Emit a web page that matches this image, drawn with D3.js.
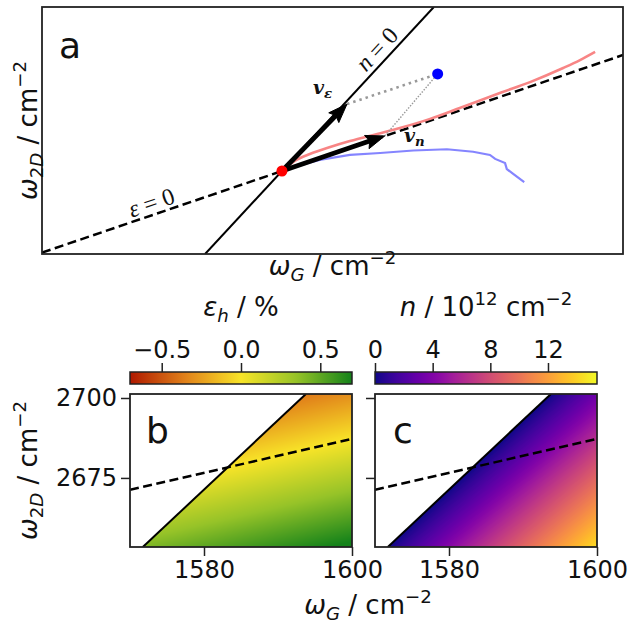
<!DOCTYPE html>
<html><head><meta charset="utf-8">
<script src="https://cdn.jsdelivr.net/npm/d3@7"></script>
<style>body{margin:0;background:#fff} svg{display:block} text{font-family:"DejaVu Sans",sans-serif;fill:#111}</style>
</head><body><svg id="chart" width="632" height="623"></svg>
<script>
// ---------- Panel a (schematic, arbitrary units) ----------
const aOrigin = [4.13, 3.36];
const aSlopeN0 = 2.54;     // n = 0 line (pure strain)
const aSlopeE0 = 0.80;     // eps = 0 line (pure doping)
const redCurveX = [4.13, 4.35, 4.61, 4.96, 5.30, 5.77, 6.16, 6.68, 7.19, 7.88, 8.40, 8.97, 9.26, 9.52];
const redCurveY = [3.36, 3.77, 4.05, 4.33, 4.57, 4.86, 5.10, 5.47, 5.91, 6.52, 6.96, 7.53, 7.85, 8.18];
const blueCurveX = [4.13, 4.44, 4.78, 5.30, 5.82, 6.39, 6.97, 7.42, 7.71, 7.80, 7.97, 8.00, 8.11, 8.30];
const blueCurveY = [3.36, 3.60, 3.81, 4.01, 4.09, 4.19, 4.24, 4.14, 4.01, 3.85, 3.68, 3.44, 3.24, 2.91];
const bluePoint = [6.81, 7.29];
const vEpsTip = [5.25, 6.07];
const vNTip = [5.90, 4.78];

// ---------- Panels b, c ----------
const omegaG0 = 1583.2, omega2D0 = 2678.3;
const strainShift = [-28, -60.8];   // cm^-1 per +1 % hydrostatic strain (G, 2D)
const dopingShift = [2.6, 1.382];   // cm^-1 per 1e12 cm^-2 (G, 2D)
const xDomain = [1570, 1600];
const yDomain = [2653.4, 2701.25];
const xTicks = [1580, 1600];
const yTicks = [2675, 2700];
const epsDomain = [-0.7, 0.7];
const epsTicks = [-0.5, 0.0, 0.5];
const epsStops = [-0.7, -0.35, 0, 0.35, 0.7];
const epsColors = ["#af1900", "#e1821a", "#f8e428", "#96c328", "#14821a"];
const nDomain = [0, 15.4];
const nTicks = [0, 4, 8, 12];

// ---------- layout ----------
const A = {x0: 42, x1: 623, y0: 7, y1: 254};
const B = {x0: 130, x1: 352, y0: 394, y1: 547};
const C = {x0: 375, x1: 597, y0: 394, y1: 547};
const CB = {y0: 372, y1: 384};
const FS = 24, LFS = 26;

const svg = d3.select("#chart");
const defs = svg.append("defs");

function mathText(g, x, y, parts, size, anchor, transform) {
  const t = g.append("text").attr("x", x).attr("y", y).attr("font-size", size)
    .attr("text-anchor", anchor || "start");
  if (transform) t.attr("transform", transform);
  let cur = 0;
  parts.forEach(p => {
    const off = p.sub ? 0.22 * size : (p.sup ? -0.42 * size : 0);
    const ts = t.append("tspan").text(p.t).attr("dy", off - cur)
      .attr("font-size", (p.sub || p.sup) ? 0.7 * size : size);
    if (p.it) ts.attr("font-style", "italic");
    if (p.family) ts.attr("font-family", p.family);
    if (p.bold) ts.attr("font-weight", "bold");
    cur = off;
  });
  return t;
}
const w2DParts = [{t: "ω", it: true}, {t: "2", sub: true}, {t: "D", sub: true, it: true}, {t: " / cm"}, {t: "−2", sup: true}];
const wGParts = [{t: "ω", it: true}, {t: "G", sub: true, it: true}, {t: " / cm"}, {t: "−2", sup: true}];

// ================= Panel a =================
const ax = d3.scaleLinear().domain([0, 10]).range([A.x0, A.x1]);
const ay = d3.scaleLinear().domain([0, 10]).range([A.y1, A.y0]);
defs.append("clipPath").attr("id", "clipA").append("rect")
  .attr("x", A.x0).attr("y", A.y0).attr("width", A.x1 - A.x0).attr("height", A.y1 - A.y0);
const ga = svg.append("g");
const gaC = ga.append("g").attr("clip-path", "url(#clipA)");
const lineFn = d3.line().x(d => ax(d[0])).y(d => ay(d[1]));

// n = 0 line
const n0Pts = [[aOrigin[0] + (0 - aOrigin[1]) / aSlopeN0, 0], [aOrigin[0] + (10 - aOrigin[1]) / aSlopeN0, 10]];
gaC.append("path").attr("d", lineFn(n0Pts)).attr("stroke", "#000").attr("stroke-width", 2).attr("fill", "none");
// eps = 0 line
const e0Pts = [[0, aOrigin[1] - aOrigin[0] * aSlopeE0], [10, aOrigin[1] + (10 - aOrigin[0]) * aSlopeE0]];
gaC.append("path").attr("d", lineFn(e0Pts)).attr("stroke", "#000").attr("stroke-width", 2.5)
  .attr("stroke-dasharray", "9,4.5").attr("fill", "none");
// curves
const curveFn = d3.line().curve(d3.curveMonotoneX).x(d => ax(d[0])).y(d => ay(d[1]));
gaC.append("path").attr("d", curveFn(redCurveX.map((x, i) => [x, redCurveY[i]])))
  .attr("stroke", "#f88585").attr("stroke-width", 2.6).attr("fill", "none");
gaC.append("path").attr("d", d3.line().x(d => ax(d[0])).y(d => ay(d[1]))(blueCurveX.map((x, i) => [x, blueCurveY[i]])))
  .attr("stroke", "#8585ff").attr("stroke-width", 2.2).attr("fill", "none");
// projection lines
gaC.append("path").attr("d", lineFn([vEpsTip, bluePoint])).attr("stroke", "#999").attr("stroke-width", 2.6)
  .attr("stroke-dasharray", "2.5,4").attr("fill", "none");
gaC.append("path").attr("d", lineFn([vNTip, bluePoint])).attr("stroke", "#999").attr("stroke-width", 1.4)
  .attr("stroke-dasharray", "1.5,1.5").attr("fill", "none");
// arrows
function arrow(from, to) {
  const x0 = ax(from[0]), y0 = ay(from[1]), x1 = ax(to[0]), y1 = ay(to[1]);
  const L = Math.hypot(x1 - x0, y1 - y0), ux = (x1 - x0) / L, uy = (y1 - y0) / L;
  const hl = 19, hw = 7;
  const bx = x1 - ux * hl, by = y1 - uy * hl;
  ga.append("line").attr("x1", x0).attr("y1", y0).attr("x2", bx + ux * 3).attr("y2", by + uy * 3)
    .attr("stroke", "#000").attr("stroke-width", 4.8);
  ga.append("path").attr("d", `M${x1},${y1}L${bx - uy * hw},${by + ux * hw}L${bx + ux * 3},${by + uy * 3}L${bx + uy * hw},${by - ux * hw}Z`)
    .attr("fill", "#000").attr("stroke", "#000").attr("stroke-width", 1);
}
arrow(aOrigin, vEpsTip);
arrow(aOrigin, vNTip);
ga.append("circle").attr("cx", ax(aOrigin[0])).attr("cy", ay(aOrigin[1])).attr("r", 5.5).attr("fill", "#ff0000");
ga.append("circle").attr("cx", ax(bluePoint[0])).attr("cy", ay(bluePoint[1])).attr("r", 5.5).attr("fill", "#0000ff");
// frame
ga.append("rect").attr("x", A.x0).attr("y", A.y0).attr("width", A.x1 - A.x0).attr("height", A.y1 - A.y0)
  .attr("fill", "none").attr("stroke", "#222").attr("stroke-width", 1.8);
// line labels
const angN = Math.atan2(ay(0) - ay(aSlopeN0), ax(1) - ax(0)) * 180 / Math.PI;
const angE = Math.atan2(ay(0) - ay(aSlopeE0), ax(1) - ax(0)) * 180 / Math.PI;
const nLabX = aOrigin[0] + 1.80;
mathText(ga, 0, -5, [{t: "n", it: true, family: "Liberation Serif"}, {t: " = 0", family: "Liberation Serif"}], 24, "middle",
  `translate(${ax(nLabX)},${ay(aOrigin[1] + (nLabX - aOrigin[0]) * aSlopeN0)}) rotate(${-angN})`);
const eLabX = 1.95;
mathText(ga, 0, -4, [{t: "ε", it: true, family: "Liberation Serif"}, {t: " = 0", family: "Liberation Serif"}], 24, "middle",
  `translate(${ax(eLabX)},${ay(aOrigin[1] + (eLabX - aOrigin[0]) * aSlopeE0)}) rotate(${-angE})`);
mathText(ga, 313, 94, [{t: "v", it: true, bold: true, family: "DejaVu Serif"}, {t: "ε", sub: true, it: true, bold: true, family: "DejaVu Serif"}], 19, "start");
mathText(ga, 404, 142, [{t: "v", it: true, bold: true, family: "DejaVu Serif"}, {t: "n", sub: true, it: true, bold: true, family: "DejaVu Serif"}], 19, "start");
ga.append("text").attr("x", 59).attr("y", 58).attr("font-size", 36).text("a");
mathText(ga, (A.x0 + A.x1) / 2, 275, wGParts, LFS, "middle");
mathText(ga, 0, 0, w2DParts, LFS, "middle", `translate(37,${(A.y0 + A.y1) / 2}) rotate(-90)`);

// ================= Panels b, c =================
const epsColor = d3.scaleLinear().domain(epsStops).range(epsColors).interpolate(d3.interpolateRgb).clamp(true);
const nScaleNorm = d3.scaleLinear().domain(nDomain).range([0, 1]).clamp(true);
const nColor = v => d3.interpolatePlasma(nScaleNorm(v));
const det = strainShift[0] * dopingShift[1] - strainShift[1] * dopingShift[0];
function decompose(g, d) {
  const dx = g - omegaG0, dy = d - omega2D0;
  return {
    eps: (dx * dopingShift[1] - dy * dopingShift[0]) / det,
    n: (strainShift[0] * dy - strainShift[1] * dx) / det
  };
}

function panel(P, id, field, colorFn, letter, yLabels) {
  const x = d3.scaleLinear().domain(xDomain).range([P.x0, P.x1]);
  const y = d3.scaleLinear().domain(yDomain).range([P.y1, P.y0]);
  const g = svg.append("g");
  const w = P.x1 - P.x0, h = P.y1 - P.y0;
  const cv = document.createElement("canvas");
  cv.width = w; cv.height = h;
  const ctx = cv.getContext("2d");
  const img = ctx.createImageData(w, h);
  for (let j = 0; j < h; j++) {
    const yv = y.invert(P.y0 + j + 0.5);
    for (let i = 0; i < w; i++) {
      const xv = x.invert(P.x0 + i + 0.5);
      const r = decompose(xv, yv);
      const k = (j * w + i) * 4;
      if (r.n < 0) { img.data[k + 3] = 0; continue; }
      const c = d3.rgb(colorFn(r[field]));
      img.data[k] = c.r; img.data[k + 1] = c.g; img.data[k + 2] = c.b; img.data[k + 3] = 255;
    }
  }
  ctx.putImageData(img, 0, 0);
  defs.append("clipPath").attr("id", "clip" + id).append("rect")
    .attr("x", P.x0).attr("y", P.y0).attr("width", w).attr("height", h);
  const gc = g.append("g").attr("clip-path", `url(#clip${id})`);
  gc.append("image").attr("x", P.x0).attr("y", P.y0).attr("width", w).attr("height", h)
    .attr("href", cv.toDataURL());
  // n = 0 line
  const sN = strainShift[1] / strainShift[0];
  const sE = dopingShift[1] / dopingShift[0];
  const nl = d3.line().x(d => x(d[0])).y(d => y(d[1]));
  gc.append("path").attr("d", nl([[omegaG0 + (yDomain[0] - omega2D0) / sN, yDomain[0]], [omegaG0 + (yDomain[1] - omega2D0) / sN, yDomain[1]]]))
    .attr("stroke", "#000").attr("stroke-width", 2).attr("fill", "none");
  gc.append("path").attr("d", nl([[xDomain[0], omega2D0 + (xDomain[0] - omegaG0) * sE], [xDomain[1], omega2D0 + (xDomain[1] - omegaG0) * sE]]))
    .attr("stroke", "#000").attr("stroke-width", 2.5).attr("stroke-dasharray", "9,4.5").attr("fill", "none");
  g.append("rect").attr("x", P.x0).attr("y", P.y0).attr("width", w).attr("height", h)
    .attr("fill", "none").attr("stroke", "#222").attr("stroke-width", 1.8);
  // axes
  const xa = g.append("g").attr("transform", `translate(0,${P.y1})`)
    .call(d3.axisBottom(x).tickValues(xTicks).tickSize(9).tickPadding(5).tickFormat(d3.format("d")));
  xa.select(".domain").remove();
  xa.selectAll("line").attr("stroke", "#222").attr("stroke-width", 1.5);
  xa.selectAll("text").attr("font-size", FS).attr("font-family", "DejaVu Sans").attr("fill", "#111");
  const ya = g.append("g").attr("transform", `translate(${P.x0},0)`)
    .call(d3.axisLeft(y).tickValues(yTicks).tickSize(9).tickPadding(4).tickFormat(yLabels ? d3.format("d") : ""));
  ya.select(".domain").remove();
  ya.selectAll("line").attr("stroke", "#222").attr("stroke-width", 1.5);
  ya.selectAll("text").attr("font-size", FS).attr("font-family", "DejaVu Sans").attr("fill", "#111");
  g.append("text").attr("x", letter === "b" ? 146 : 393).attr("y", 443).attr("font-size", 36).text(letter);
}
panel(B, "B", "eps", epsColor, "b", true);
panel(C, "C", "n", nColor, "c", false);

// colorbars
function colorbar(P, id, domain, colorFn, ticks, fmt, labelParts) {
  const s = d3.scaleLinear().domain(domain).range([P.x0, P.x1]);
  const grad = defs.append("linearGradient").attr("id", "grad" + id).attr("x1", "0%").attr("x2", "100%");
  d3.range(0, 1.0001, 0.02).forEach(t => {
    const v = domain[0] + t * (domain[1] - domain[0]);
    grad.append("stop").attr("offset", (t * 100) + "%").attr("stop-color", colorFn(v));
  });
  const g = svg.append("g");
  g.append("rect").attr("x", P.x0).attr("y", CB.y0).attr("width", P.x1 - P.x0).attr("height", CB.y1 - CB.y0)
    .attr("fill", `url(#grad${id})`).attr("stroke", "#222").attr("stroke-width", 1.5);
  const axg = g.append("g").attr("transform", `translate(0,${CB.y0})`)
    .call(d3.axisTop(s).tickValues(ticks).tickSize(9).tickPadding(5).tickFormat(fmt));
  axg.select(".domain").remove();
  axg.selectAll("line").attr("stroke", "#222").attr("stroke-width", 1.5);
  axg.selectAll("text").attr("font-size", FS).attr("font-family", "DejaVu Sans").attr("fill", "#111");
  mathText(g, (P.x0 + P.x1) / 2, 316, labelParts, LFS, "middle");
}
const minusFmt = f => v => d3.format(f)(v).replace("-", "−");
colorbar(B, "B", epsDomain, epsColor, epsTicks, minusFmt(".1f"),
  [{t: "ε", it: true}, {t: "h", sub: true, it: true}, {t: " / %"}]);
colorbar(C, "C", nDomain, nColor, nTicks, d3.format("d"),
  [{t: "n", it: true}, {t: " / 10"}, {t: "12", sup: true}, {t: " cm"}, {t: "−2", sup: true}]);

mathText(svg, 368, 614, wGParts, LFS, "middle");
mathText(svg, 0, 0, w2DParts, LFS, "middle", `translate(37,${(B.y0 + B.y1) / 2}) rotate(-90)`);
</script></body></html>
